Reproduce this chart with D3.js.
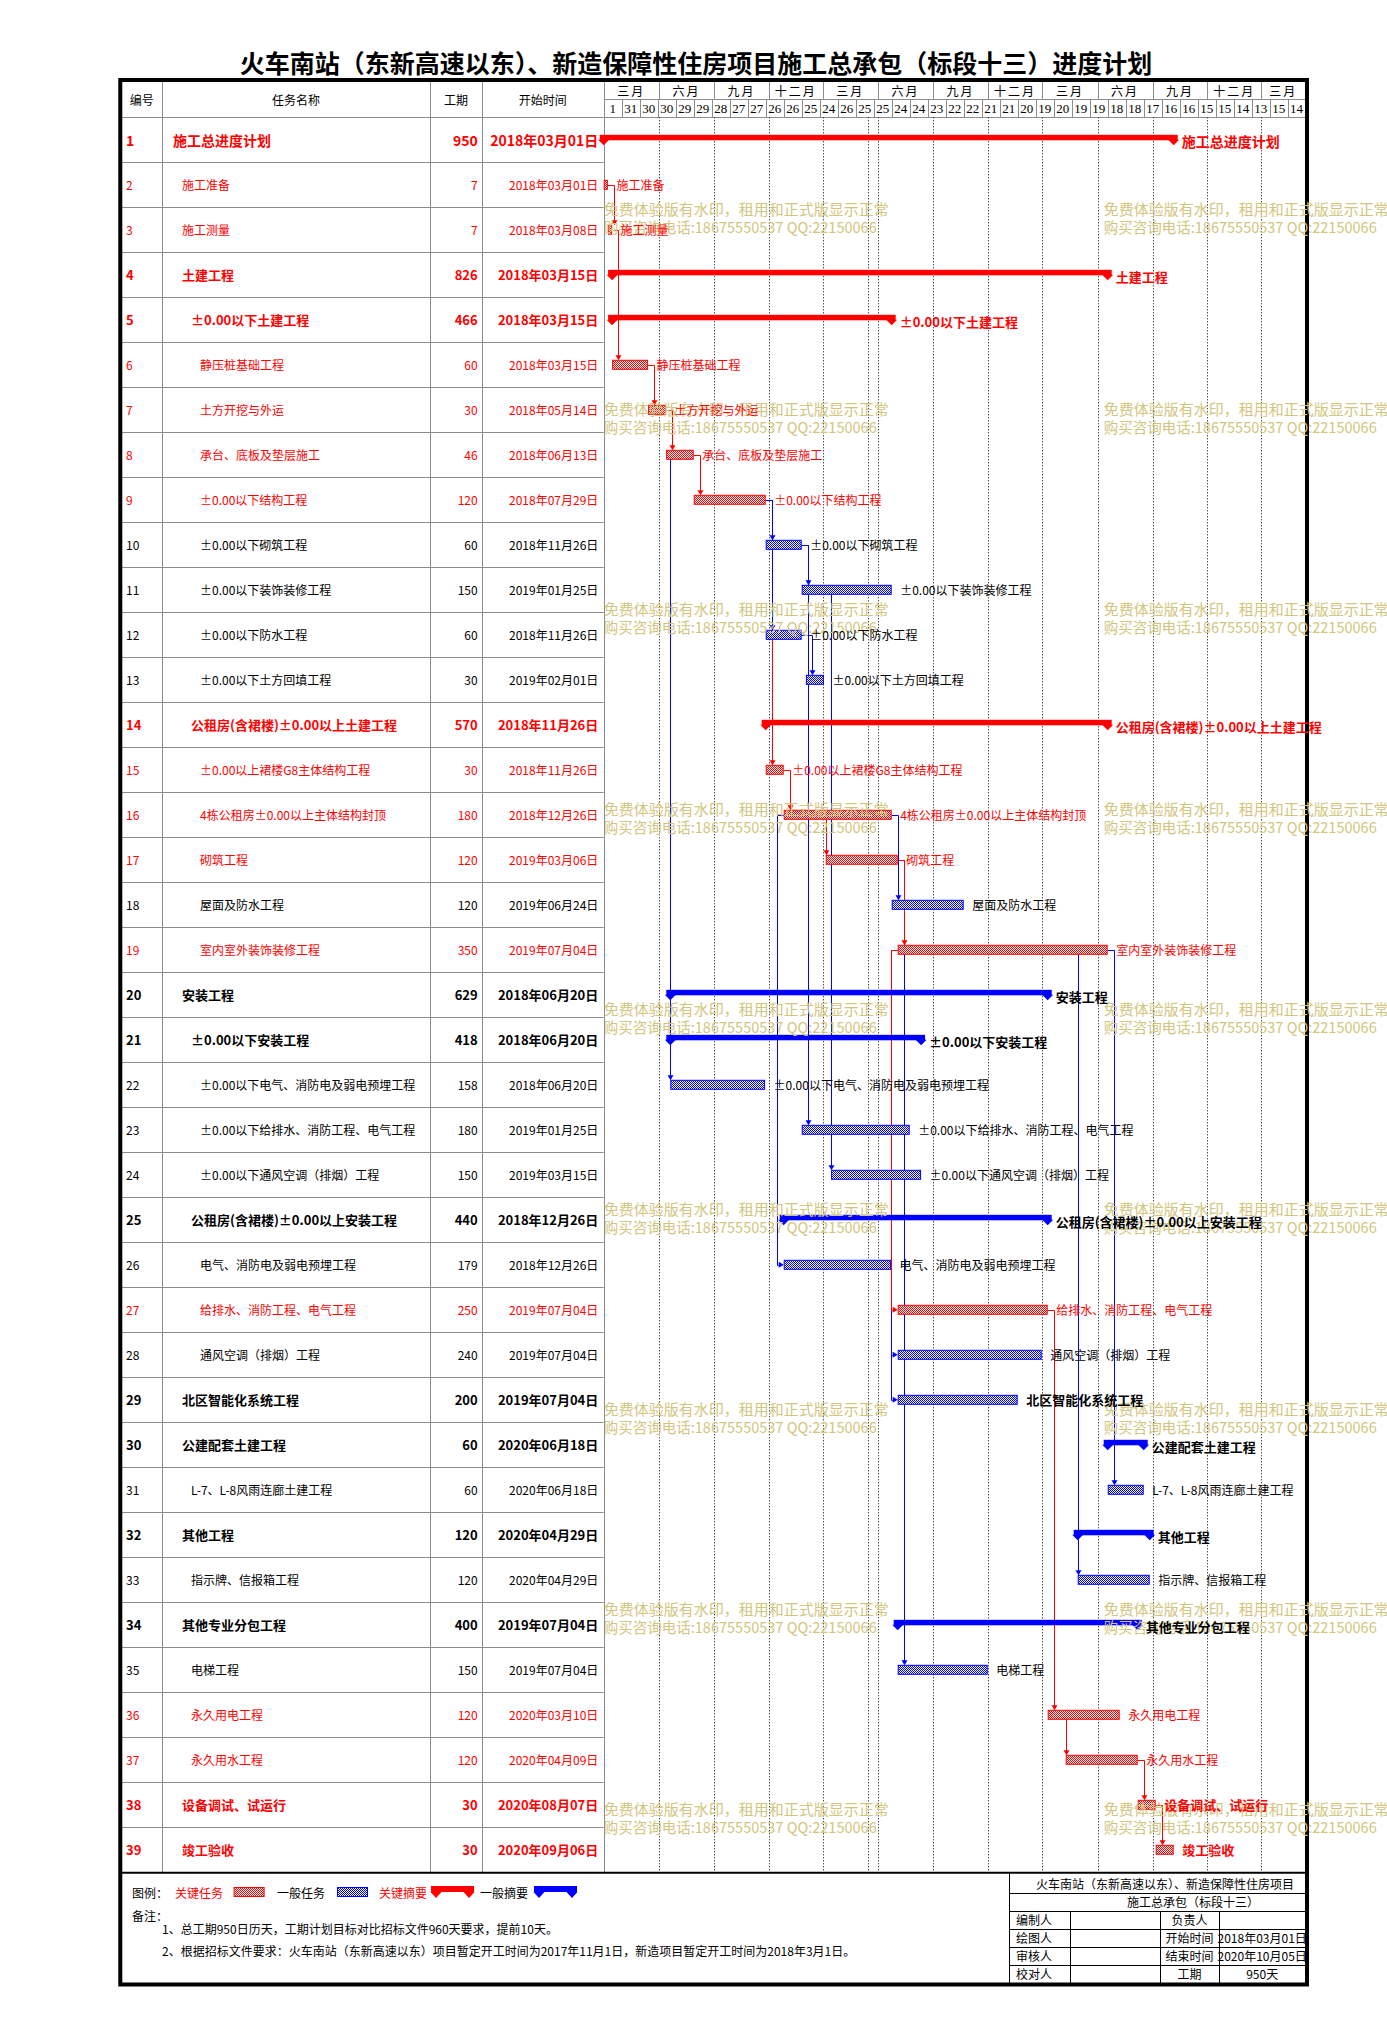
<!DOCTYPE html>
<html><head><meta charset="utf-8">
<script src="https://cdn.jsdelivr.net/npm/d3@7"></script>
<style>
body{margin:0;background:#fff;}
svg{display:block;font-family:"Noto Sans CJK SC","Noto Sans",sans-serif;}
</style></head><body>
<svg id="chart" width="1387" height="2034"></svg>
<script>
// ---------------- DATA ----------------
const chartTitle = "火车南站（东新高速以东）、新造保障性住房项目施工总承包（标段十三）进度计划";
const headerLabels = ["编号", "任务名称", "工期", "开始时间"];
const taskNames = [
  "施工总进度计划","施工准备","施工测量","土建工程","±0.00以下土建工程",
  "静压桩基础工程","土方开挖与外运","承台、底板及垫层施工","±0.00以下结构工程","±0.00以下砌筑工程",
  "±0.00以下装饰装修工程","±0.00以下防水工程","±0.00以下土方回填工程","公租房(含裙楼)±0.00以上土建工程","±0.00以上裙楼G8主体结构工程",
  "4栋公租房±0.00以上主体结构封顶","砌筑工程","屋面及防水工程","室内室外装饰装修工程","安装工程",
  "±0.00以下安装工程","±0.00以下电气、消防电及弱电预埋工程","±0.00以下给排水、消防工程、电气工程","±0.00以下通风空调（排烟）工程","公租房(含裙楼)±0.00以上安装工程",
  "电气、消防电及弱电预埋工程","给排水、消防工程、电气工程","通风空调（排烟）工程","北区智能化系统工程","公建配套土建工程",
  "L-7、L-8风雨连廊土建工程","其他工程","指示牌、信报箱工程","其他专业分包工程","电梯工程",
  "永久用电工程","永久用水工程","设备调试、试运行","竣工验收"
];
const taskLevels = [0,1,1,1,2,3,3,3,3,3,3,3,3,2,3,3,3,3,3,1,2,3,3,3,2,3,3,3,1,1,2,1,2,1,2,2,2,1,1];
const taskDurations = [950,7,7,826,466,60,30,46,120,60,150,60,30,570,30,180,120,120,350,629,418,158,180,150,440,179,250,240,200,60,60,120,120,400,150,120,120,30,30];
const taskStarts = [
  "2018-03-01","2018-03-01","2018-03-08","2018-03-15","2018-03-15",
  "2018-03-15","2018-05-14","2018-06-13","2018-07-29","2018-11-26",
  "2019-01-25","2018-11-26","2019-02-01","2018-11-26","2018-11-26",
  "2018-12-26","2019-03-06","2019-06-24","2019-07-04","2018-06-20",
  "2018-06-20","2018-06-20","2019-01-25","2019-03-15","2018-12-26",
  "2018-12-26","2019-07-04","2019-07-04","2019-07-04","2020-06-18",
  "2020-06-18","2020-04-29","2020-04-29","2019-07-04","2019-07-04",
  "2020-03-10","2020-04-09","2020-08-07","2020-09-06"
];
const taskCritical = [1,1,1,1,1,1,1,1,1,0,0,0,0,1,1,1,1,0,1,0,0,0,0,0,0,0,1,0,0,0,0,0,0,0,0,1,1,1,1];
const taskSummary  = [1,0,0,1,1,0,0,0,0,0,0,0,0,1,0,0,0,0,0,1,1,0,0,0,1,0,0,0,0,1,0,1,0,1,0,0,0,0,0];
const taskBold     = [1,0,0,1,1,0,0,0,0,0,0,0,0,1,0,0,0,0,0,1,1,0,0,0,1,0,0,0,1,1,0,1,0,1,0,0,0,1,1];
// [predecessor, successor, type]
const taskLinks = [
  [2,3,"FS"],[3,6,"FS"],[6,7,"FS"],[7,8,"FS"],[8,9,"FS"],[8,22,"FS"],
  [9,10,"FS"],[9,12,"FS"],[9,15,"FS"],[10,11,"FS"],[10,23,"FS"],[11,24,"FS"],
  [12,13,"FS"],[15,16,"FS"],[16,17,"FS"],[16,18,"FS"],[16,26,"SS"],[17,19,"FS"],
  [17,35,"FS"],[19,27,"SS"],[19,28,"SS"],[19,29,"SS"],[19,31,"FS"],[19,33,"FS"],
  [27,36,"FS"],[36,37,"FS"],[37,38,"FS"],[38,39,"FS"]
];
const projectStart = "2018-03-01";
const timelineDays = 1170;
const dayTickStep = 30;
const dayTickLabels = [1,31,30,30,29,29,28,27,27,26,26,25,24,26,25,25,24,24,23,22,22,21,21,20,19,20,19,19,18,18,17,16,16,15,15,14,13,15,14];
const monthTickDates = ["2018-03-01","2018-06-01","2018-09-01","2018-12-01","2019-03-01","2019-06-01","2019-09-01","2019-12-01","2020-03-01","2020-06-01","2020-09-01","2020-12-01","2021-03-01"];
const monthTickLabels = ["三月","六月","九月","十二月","三月","六月","九月","十二月","三月","六月","九月","十二月","三月"];
const statusDate = "2019-05-16";
const watermarkLines = ["免费体验版有水印，租用和正式版显示正常","购买咨询电话:18675550537 QQ:22150066"];
const legendItems = [
  {label:"关键任务", kind:"task", crit:1},
  {label:"一般任务", kind:"task", crit:0},
  {label:"关键摘要", kind:"summary", crit:1},
  {label:"一般摘要", kind:"summary", crit:0}
];
const noteLines = [
  "1、总工期950日历天，工期计划目标对比招标文件960天要求，提前10天。",
  "2、根据招标文件要求：火车南站（东新高速以东）项目暂定开工时间为2017年11月1日，新造项目暂定开工时间为2018年3月1日。"
];
const infoTitle1 = "火车南站（东新高速以东）、新造保障性住房项目";
const infoTitle2 = "施工总承包（标段十三）";
const infoRows = [
  ["编制人","","负责人",""],
  ["绘图人","","开始时间","2018年03月01日"],
  ["审核人","","结束时间","2020年10月05日"],
  ["校对人","","工期","950天"]
];

// ---------------- LAYOUT ----------------
const RED = "#ff0000", BLUE = "#0000ff", GRID = "#8c8c8c";
const frameL = 120.3, frameR = 1307, frameT = 80, frameB = 1984.5;
const tblL = 122, colX = [122, 161.7, 430.3, 481.7, 603.7];
const chartL = 603.7, chartR = 1305.3;
const headTop = 82, monthBottom = 99, headBottom = 117.3, rowH = 45;
const nRows = taskNames.length;
const tblBottom = headBottom + rowH * nRows;

const svg = d3.select("#chart");
const parse = d3.utcParse("%Y-%m-%d");
const fmt = d3.utcFormat("%Y年%m月%d日");
const origin = parse(projectStart);
const x = d3.scaleUtc().domain([origin, d3.utcDay.offset(origin, timelineDays)]).range([chartL, chartL + 0.6 * timelineDays]);
const yBand = d3.scaleBand().domain(d3.range(1, nRows + 1)).range([headBottom, tblBottom]);
const cy = id => yBand(id) + yBand.bandwidth() / 2;
const px = v => Math.round(v) + 0.5;

const tasks = taskNames.map((name, i) => {
  const start = parse(taskStarts[i]);
  return {id: i + 1, name, level: taskLevels[i], dur: taskDurations[i], start,
    end: d3.utcDay.offset(start, taskDurations[i]), crit: !!taskCritical[i],
    summary: !!taskSummary[i], bold: !!taskBold[i]};
});
const byId = new Map(tasks.map(t => [t.id, t]));

// defs
const defs = svg.append("defs");
[["hatchRed", RED], ["hatchBlue", BLUE]].forEach(([id, c]) => {
  const p = defs.append("pattern").attr("id", id).attr("patternUnits", "userSpaceOnUse").attr("width", 2).attr("height", 2);
  p.append("rect").attr("width", 2).attr("height", 2).attr("fill", "#fff");
  p.append("rect").attr("width", 1).attr("height", 1).attr("fill", c);
  p.append("rect").attr("x", 1).attr("y", 1).attr("width", 1).attr("height", 1).attr("fill", c);
});
defs.append("clipPath").attr("id", "chartClip").append("rect")
  .attr("x", 585).attr("y", headBottom).attr("width", chartR - 585).attr("height", tblBottom - headBottom);
defs.append("clipPath").attr("id", "headClip").append("rect")
  .attr("x", chartL).attr("y", headTop).attr("width", chartR - chartL).attr("height", headBottom - headTop);

// title
svg.append("text").attr("x", 696).attr("y", 62).attr("text-anchor", "middle")
  .attr("dominant-baseline", "central").attr("font-size", 25).attr("font-weight", 700)
  .text(chartTitle);

// ---------------- TABLE ----------------
const tbl = svg.append("g");
d3.range(0, nRows + 1).forEach(k => {
  const yy = px(headBottom + rowH * k);
  tbl.append("line").attr("x1", tblL).attr("x2", chartL).attr("y1", yy).attr("y2", yy).attr("stroke", GRID);
});
tbl.append("line").attr("x1", chartL).attr("x2", chartR).attr("y1", px(headBottom)).attr("y2", px(headBottom)).attr("stroke", GRID);
colX.slice(1).forEach(cx => {
  tbl.append("line").attr("x1", px(cx)).attr("x2", px(cx)).attr("y1", headTop).attr("y2", tblBottom).attr("stroke", GRID);
});
headerLabels.forEach((h, i) => {
  tbl.append("text").attr("x", (colX[i] + colX[i + 1]) / 2).attr("y", 99.5)
    .attr("text-anchor", "middle").attr("dominant-baseline", "central").attr("font-size", 12).text(h);
});
tasks.forEach(t => {
  const color = t.crit ? RED : "#000";
  const fs = t.level === 0 ? 14 : (t.bold ? 13 : 12);
  const fw = t.bold ? 700 : 400;
  const yy = cy(t.id);
  const g = tbl.append("g").attr("fill", color).attr("font-size", fs).attr("font-weight", fw).attr("dominant-baseline", "central");
  g.append("text").attr("x", 126).attr("y", yy).text(t.id);
  g.append("text").attr("x", 173 + 9 * t.level).attr("y", yy).text(t.name);
  g.append("text").attr("x", 477.7).attr("y", yy).attr("text-anchor", "end").text(t.dur);
  g.append("text").attr("x", 598.3).attr("y", yy).attr("text-anchor", "end").text(fmt(t.start));
});

// ---------------- TIMELINE HEADER ----------------
const hd = svg.append("g").attr("clip-path", "url(#headClip)");
hd.append("line").attr("x1", chartL).attr("x2", chartR).attr("y1", px(monthBottom)).attr("y2", px(monthBottom)).attr("stroke", GRID);
const mDates = monthTickDates.map(parse);
mDates.forEach((d, k) => {
  const x0 = x(d);
  const x1 = Math.min(k + 1 < mDates.length ? x(mDates[k + 1]) : chartR + 60, chartR);
  if (k > 0) hd.append("line").attr("x1", px(x0)).attr("x2", px(x0)).attr("y1", headTop).attr("y2", monthBottom).attr("stroke", GRID);
  hd.append("text").attr("x", (x0 + x1) / 2).attr("y", 90.5).attr("text-anchor", "middle")
    .attr("dominant-baseline", "central").attr("font-size", 12).attr("letter-spacing", 2).text(monthTickLabels[k]);
});
dayTickLabels.forEach((lab, k) => {
  const x0 = x(d3.utcDay.offset(origin, dayTickStep * k));
  const x1 = Math.min(x(d3.utcDay.offset(origin, dayTickStep * (k + 1))), chartR);
  if (k > 0) hd.append("line").attr("x1", px(x0)).attr("x2", px(x0)).attr("y1", monthBottom).attr("y2", headBottom).attr("stroke", GRID);
  hd.append("text").attr("x", (x0 + x1) / 2).attr("y", 108.5).attr("text-anchor", "middle")
    .attr("dominant-baseline", "central").attr("font-family", "'Liberation Serif','DejaVu Serif',serif")
    .attr("font-size", 13).text(lab);
});

// ---------------- GANTT AREA ----------------
const ch = svg.append("g").attr("clip-path", "url(#chartClip)");
mDates.slice(1).concat([parse(statusDate)]).forEach(d => {
  const gx = px(x(d));
  ch.append("line").attr("x1", gx).attr("x2", gx).attr("y1", headBottom).attr("y2", tblBottom)
    .attr("stroke", "#000").attr("stroke-dasharray", "1,2");
});

// links (drawn in reverse successor order so earlier ones lie on top)
const half = 4.5;
const linkG = ch.append("g").attr("fill", "none");
taskLinks.slice().sort((a, b) => b[1] - a[1] || b[0] - a[0]).forEach(([pId, sId, type]) => {
  const p = byId.get(pId), s = byId.get(sId);
  const color = (p.crit && s.crit) ? RED : BLUE;
  const yp = cy(pId), ys = cy(sId);
  let path, arrow;
  if (type === "SS") {
    const xs = x(s.start), xp = x(p.start), vx = px(xp - 7);
    path = `M${xp},${px(yp)}H${vx}V${px(ys)}H${xs - 5}`;
    arrow = `M${xs - 5},${ys - 3}L${xs},${ys}L${xs - 5},${ys + 3}Z`;
  } else {
    const xe = x(p.end), xs = x(s.start);
    const top = ys - half;
    if (xs >= xe - 0.5) {
      const X = px(Math.max(xe, xs) + 6);
      path = `M${xe},${px(yp)}H${X}V${top - 4}`;
      arrow = `M${X - 3},${top - 5}L${X + 3},${top - 5}L${X},${top}Z`;
    } else {
      const X = px(xs);
      path = `M${X},${yp + half}V${top - 4}`;
      arrow = `M${X - 3},${top - 5}L${X + 3},${top - 5}L${X},${top}Z`;
    }
  }
  linkG.append("path").attr("d", path).attr("stroke", color).attr("stroke-width", 1);
  linkG.append("path").attr("d", arrow).attr("fill", color);
});

// bars
const barG = ch.append("g");
tasks.forEach(t => {
  const c = t.crit ? RED : BLUE;
  const yy = cy(t.id);
  const x0 = x(t.start), x1 = x(t.end);
  if (t.summary) {
    barG.append("rect").attr("x", x0 - 4).attr("y", yy - 5).attr("width", x1 - x0 + 8).attr("height", 5.5).attr("fill", c);
    [x0, x1].forEach(e => {
      barG.append("path").attr("d", `M${e - 5.5},${yy}L${e + 5.5},${yy}L${e},${yy + 5.5}Z`).attr("fill", c);
    });
  } else {
    barG.append("rect").attr("x", x0 + 0.5).attr("y", yy - half).attr("width", Math.max(x1 - x0 - 1, 1)).attr("height", 2 * half)
      .attr("fill", `url(#${t.crit ? "hatchRed" : "hatchBlue"})`).attr("stroke", c).attr("stroke-width", 1);
  }
});

// ---------------- FOOTER ----------------
const ft = svg.append("g");
ft.append("line").attr("x1", tblL).attr("x2", chartR).attr("y1", tblBottom + 0.5).attr("y2", tblBottom + 0.5).attr("stroke", "#000").attr("stroke-width", 2);
const legY = 1892;
const lg = ft.append("g").attr("font-size", 12).attr("dominant-baseline", "central");
lg.append("text").attr("x", 132).attr("y", legY).text("图例：");
const legPos = [{tx: 175, sx: 233.6}, {tx: 277, sx: 337}, {tx: 379, sx: 431}, {tx: 480, sx: 534}];
legendItems.forEach((it, i) => {
  const c = it.crit ? RED : BLUE;
  lg.append("text").attr("x", legPos[i].tx).attr("y", legY).attr("fill", it.crit ? RED : "#000").text(it.label);
  const sx = legPos[i].sx;
  if (it.kind === "task") {
    lg.append("rect").attr("x", sx + 0.5).attr("y", legY - 4.5).attr("width", 30).attr("height", 9)
      .attr("fill", `url(#${it.crit ? "hatchRed" : "hatchBlue"})`).attr("stroke", c);
  } else {
    const a = sx + 5, b = sx + 38;
    lg.append("rect").attr("x", a - 5).attr("y", legY - 6).attr("width", b - a + 10).attr("height", 6).attr("fill", c);
    [a, b].forEach(e => lg.append("path").attr("d", `M${e - 5.5},${legY}L${e + 5.5},${legY}L${e},${legY + 6}Z`).attr("fill", c));
  }
});
lg.append("text").attr("x", 132).attr("y", 1915).text("备注：");
noteLines.forEach((n, i) => lg.append("text").attr("x", 162).attr("y", 1928 + 22.5 * i).text(n));

const ib = ft.append("g").attr("font-size", 12).attr("dominant-baseline", "central");
const ibL = 1009, ibR = chartR;
const ibRows = [1873, 1892.6, 1911, 1928.8, 1946.6, 1964.7, 1983];
ib.append("line").attr("x1", px(ibL)).attr("x2", px(ibL)).attr("y1", 1873).attr("y2", 1983).attr("stroke", "#000");
ibRows.slice(1, 6).forEach(yy => ib.append("line").attr("x1", ibL).attr("x2", ibR).attr("y1", px(yy)).attr("y2", px(yy)).attr("stroke", "#000"));
const ibCols = [1009, 1070, 1159.6, 1219.4, 1305];
[1070, 1159.6, 1219.4].forEach(cx => ib.append("line").attr("x1", px(cx)).attr("x2", px(cx)).attr("y1", ibRows[2]).attr("y2", 1983).attr("stroke", "#000"));
ib.append("text").attr("x", 1165).attr("y", (ibRows[0] + ibRows[1]) / 2 + 1).attr("text-anchor", "middle").text(infoTitle1);
ib.append("text").attr("x", 1193).attr("y", (ibRows[1] + ibRows[2]) / 2).attr("text-anchor", "middle").text(infoTitle2);
infoRows.forEach((r, i) => {
  const yy = (ibRows[i + 2] + ibRows[i + 3]) / 2;
  ib.append("text").attr("x", 1016).attr("y", yy).text(r[0]);
  ib.append("text").attr("x", (ibCols[2] + ibCols[3]) / 2).attr("y", yy).attr("text-anchor", "middle").text(r[2]);
  if (r[3]) ib.append("text").attr("x", (ibCols[3] + ibCols[4]) / 2).attr("y", yy).attr("text-anchor", "middle").text(r[3]);
});

// frame
svg.append("rect").attr("x", frameL).attr("y", frameT).attr("width", frameR - frameL).attr("height", frameB - frameT)
  .attr("fill", "none").attr("stroke", "#000").attr("stroke-width", 4);

// watermark (not clipped: it runs past the frame in the reference)
const wm = svg.append("g").attr("fill", "#d2c57e").attr("font-size", 15).attr("dominant-baseline", "central");
d3.range(0, 9).forEach(k => {
  [chartL, chartL + 500].forEach(wx => {
    wm.append("text").attr("x", wx).attr("y", 208 + 200 * k).text(watermarkLines[0]);
    wm.append("text").attr("x", wx).attr("y", 226 + 200 * k).attr("textLength", 273).attr("lengthAdjust", "spacingAndGlyphs").text(watermarkLines[1]);
  });
});

// bar labels (not clipped)
const labG = svg.append("g").attr("dominant-baseline", "central");
tasks.forEach(t => {
  const yy = cy(t.id) + (t.summary ? 1.5 : 0);
  const fs = t.level === 0 ? 14 : (t.bold ? 13 : 12);
  labG.append("text").attr("x", x(t.end) + (t.summary ? 8 : 8.5)).attr("y", yy)
    .attr("fill", t.crit ? RED : "#000").attr("font-size", fs).attr("font-weight", t.bold ? 700 : 400)
    .text(t.name);
});
</script>
</body></html>
